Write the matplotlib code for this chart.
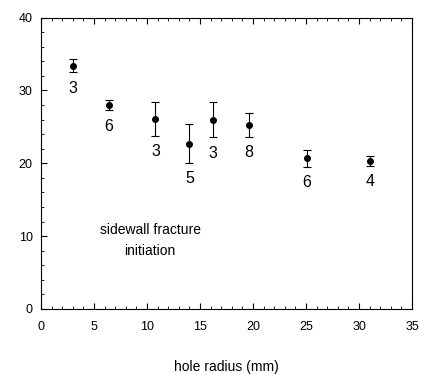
import matplotlib.pyplot as plt
from matplotlib.ticker import MultipleLocator

plt.rcParams["font.family"] = ["Liberation Sans", "DejaVu Sans"]

# hole radius (mm), mean value, error half-width, number of tests
radius = [3.0, 6.4, 10.8, 14.0, 16.2, 19.6, 25.1, 31.0]
value = [33.4, 28.0, 26.1, 22.7, 26.0, 25.3, 20.7, 20.3]
err = [0.9, 0.75, 2.35, 2.65, 2.45, 1.65, 1.15, 0.7]
n_tests = ["3", "6", "3", "5", "3", "8", "6", "4"]

fig = plt.figure(figsize=(4.3, 3.74), dpi=100)
ax = fig.add_axes([0.0953, 0.174, 0.863, 0.779])

ax.errorbar(radius, value, yerr=err, fmt='o', color='black', ms=4,
            elinewidth=0.8, capsize=3, capthick=0.8)

for x, y, e, n in zip(radius, value, err, n_tests):
    ax.annotate(n, (x, y - e), xytext=(0, -6), textcoords='offset points',
                ha='center', va='top', fontsize=11.5)

ax.text(10.3, 9.4, "sidewall fracture\ninitiation", ha='center', va='center',
        fontsize=10, linespacing=1.65)

ax.set_xlim(0, 35)
ax.set_ylim(0, 40)
ax.xaxis.set_major_locator(MultipleLocator(5))
ax.xaxis.set_minor_locator(MultipleLocator(1))
ax.yaxis.set_major_locator(MultipleLocator(10))
ax.yaxis.set_minor_locator(MultipleLocator(2))
ax.tick_params(which='both', direction='in', top=True, right=False, labelsize=9)
ax.tick_params(which='major', length=4)
ax.tick_params(which='minor', length=2)
ax.tick_params(axis='x', pad=9)
ax.tick_params(axis='y', pad=6)

ax.set_xlabel("hole radius (mm)", fontsize=10, labelpad=19)

fig.savefig('out.png', dpi=100)
